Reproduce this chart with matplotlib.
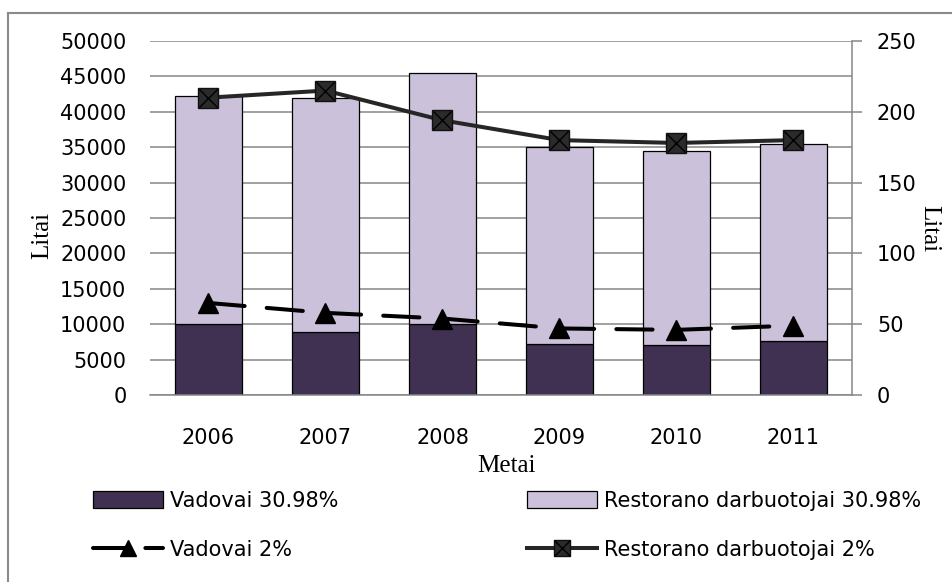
import matplotlib
matplotlib.use('Agg')
import matplotlib.pyplot as plt
from matplotlib.patches import Patch
from matplotlib.lines import Line2D
from matplotlib.legend_handler import HandlerTuple
import numpy as np

# ---- data ----
years = ['2006', '2007', '2008', '2009', '2010', '2011']
vadovai_3098 = [10000, 8900, 10000, 7200, 7100, 7600]
restorano_3098 = [32300, 33000, 35500, 27800, 27400, 27800]
vadovai_2 = [65, 58, 54, 47, 46, 49]
restorano_2 = [210, 215, 194, 180, 178, 180]
left_ticks = [0, 5000, 10000, 15000, 20000, 25000, 30000, 35000, 40000, 45000, 50000]
right_ticks = [0, 50, 100, 150, 200, 250]
labels = ['Vadovai 30.98%', 'Restorano darbuotojai 30.98%', 'Vadovai 2%', 'Restorano darbuotojai 2%']

plt.rcParams['font.family'] = ['DejaVu Sans']

W, H = 953, 582
fig = plt.figure(figsize=(W / 100, H / 100), dpi=100)
fig.patch.set_facecolor('white')

DARK = '#403152'
LIGHT = '#CCC1DA'
GRID = '#868686'
FS = 15

ax = fig.add_axes([150 / W, 1 - 395 / H, 702 / W, 354 / H])
x = np.arange(len(years))
ax.bar(x, vadovai_3098, width=0.57, color=DARK, edgecolor='black', linewidth=0.9, zorder=2)
ax.bar(x, restorano_3098, bottom=vadovai_3098, width=0.57, color=LIGHT,
       edgecolor='black', linewidth=0.9, zorder=2)
ax.set_xlim(-0.5, len(years) - 0.5)
ax.set_ylim(0, 50000)
ax.set_yticks(left_ticks)
ax.set_yticklabels([str(v) for v in left_ticks])
ax.yaxis.grid(True, color=GRID, linewidth=1.1)
ax.set_axisbelow(True)
for s in ['left', 'top', 'right']:
    ax.spines[s].set_visible(False)
ax.spines['bottom'].set_color(GRID)
ax.spines['bottom'].set_linewidth(1.1)
ax.tick_params(axis='y', length=0, pad=17, labelsize=FS, labelcolor='black')
ax.set_xticks(x)
ax.set_xticklabels(years)
ax.tick_params(axis='x', length=0, pad=24, labelsize=FS, labelcolor='black')

ax2 = ax.twinx()
ax2.set_ylim(0, 250)
ax2.set_yticks(right_ticks)
ax2.set_yticklabels([str(v) for v in right_ticks])
ax2.tick_params(axis='y', direction='out', length=7.2, width=1.1, color=GRID,
                pad=10.8, labelsize=FS, labelcolor='black')
for s in ['left', 'top', 'bottom']:
    ax2.spines[s].set_visible(False)
ax2.spines['right'].set_color(GRID)
ax2.spines['right'].set_linewidth(1.1)

dash = (0, (9, 5.5))
ax2.plot(x, vadovai_2, color='black', linewidth=2.9, linestyle=dash, dash_capstyle='round',
         marker='^', markersize=14, markerfacecolor='black', markeredgecolor='black', zorder=3)
ax2.plot(x, restorano_2, color='#262626', linewidth=2.9, marker='s', markersize=14,
         markerfacecolor='#2b2b2b', markeredgecolor='#111111', zorder=3)
ax2.plot(x, restorano_2, linestyle='none', marker='x', markersize=13,
         markeredgecolor='black', markeredgewidth=1.0, zorder=4)

# axis titles
fig.text(506 / W, 1 - 466 / H, 'Metai', family='Liberation Serif', fontsize=18,
         ha='center', va='center', color='black')
fig.text(42 / W, 1 - 235 / H, 'Litai', family='Liberation Serif', fontsize=18,
         rotation=90, ha='center', va='center', color='black')
fig.text(929 / W, 1 - 229 / H, 'Litai', family='Liberation Serif', fontsize=18,
         rotation=-90, ha='center', va='center', color='black')

# legend
h1 = Patch(facecolor=DARK, edgecolor='black', linewidth=0.9)
h2 = Patch(facecolor=LIGHT, edgecolor='black', linewidth=0.9)
h3 = Line2D([], [], color='black', linewidth=2.9, linestyle=(0, (8, 5)), dash_capstyle='round',
            marker='^', markersize=11, markerfacecolor='black')
h4a = Line2D([], [], color='#262626', linewidth=2.9, marker='s', markersize=12,
             markerfacecolor='#2b2b2b', markeredgecolor='#111111')
h4b = Line2D([], [], linestyle='none', marker='x', markersize=11,
             markeredgecolor='black', markeredgewidth=1.0)

common = dict(loc='upper left', frameon=False, borderpad=0, borderaxespad=0,
              handlelength=3.36, handleheight=0.87, handletextpad=0.34,
              labelspacing=1.4, fontsize=FS, numpoints=1,
              handler_map={tuple: HandlerTuple(ndivide=1, pad=0)})
legA = fig.legend([h1, h3], [labels[0], labels[2]],
                  bbox_to_anchor=(93 / W, 1 - 491 / H), **common)
legB = fig.legend([h2, (h4a, h4b)], [labels[1], labels[3]],
                  bbox_to_anchor=(527 / W, 1 - 491 / H), **common)
for leg in (legA, legB):
    for t in leg.get_texts():
        t.set_color('black')

# outer frame (left and top edges visible)
fig.add_artist(Line2D([8 / W, 8 / W], [0, 1 - 13 / H], transform=fig.transFigure,
                      color='#8a8a8a', linewidth=1.5))
fig.add_artist(Line2D([8 / W, 1], [1 - 13 / H, 1 - 13 / H], transform=fig.transFigure,
                      color='#8a8a8a', linewidth=1.5))

fig.savefig('out.png', dpi=100)
